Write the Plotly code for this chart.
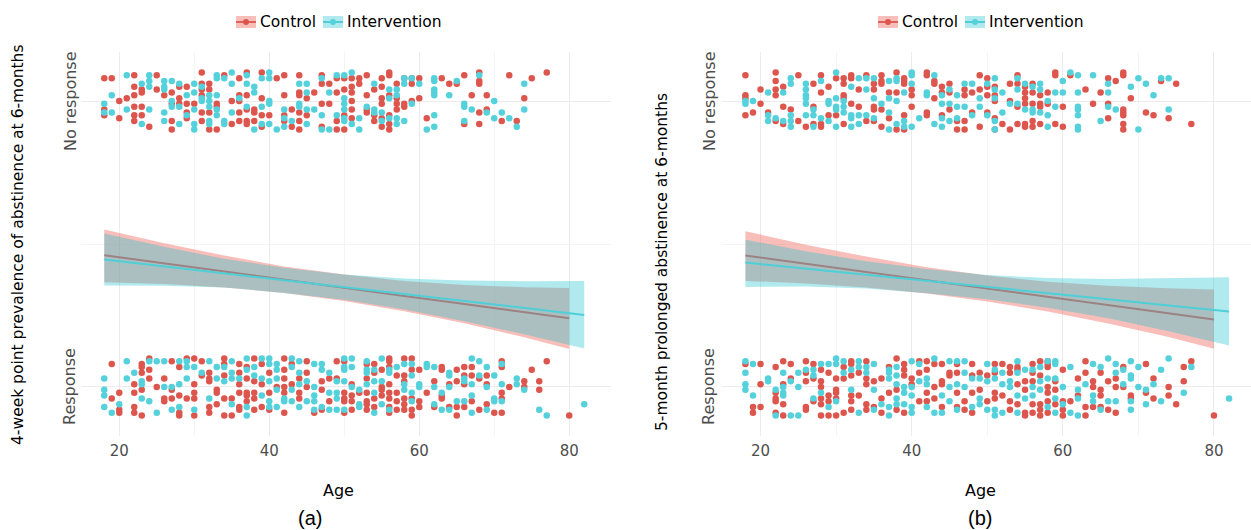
import plotly.graph_objects as go

W, H = 1251, 530

# ---------------- data ----------------
groups = ["Control", "Intervention"]
y_labels = ["Response", "No response"]   # y = 0, y = 1
x_ticks = [20, 40, 60, 80]
caption_a = "(a)"
caption_b = "(b)"
ytitle_a = "4-week point prevalence of abstinence at 6-months"
ytitle_b = "5-month prolonged abstinence at 6-months"

# jittered observations: (age, [vertical jitter in hundredths])
a_nr_ctrl = [(18,[8,-3,-5]),(19,[8]),(20,[0,-6]),(21,[1]),(22,[9,5,2,-2,-5,-7]),(23,[4,3,-2,-5]),(24,[-9]),(25,[9,4]),
             (26,[2]),(27,[3,-1,-7,-10]),(28,[5,1,-1]),(29,[5,-1,-4,-6]),(30,[-1]),(31,[10,6,4,2,-4,-7]),(32,[6,4,-4,-10]),
             (33,[-1,-2,-10]),(34,[9]),(35,[0,-8]),(36,[8,2,0,-4,-7]),(37,[10,2,-3,-7,-8]),(38,[-3,-4,-7]),(39,[10,1,-5,-9]),
             (40,[-5]),(41,[8]),(42,[9,2,-5,-7]),(43,[-3,-9]),(44,[9,3,2,-4,-7,-10]),(45,[1,-5]),(46,[3]),(47,[9,6,-1,-9]),
             (48,[6,-1]),(49,[8,3,-7,-10]),(50,[8,4,-5,-10]),(51,[8,5,3,0,-3,-6]),(52,[8,6]),(53,[9,2,-3,-4]),(54,[4,-5,-7]),
             (55,[8,5,1,-1,-6,-9]),(56,[10,9,2,-5,-8,-10]),(57,[6,1,-1,-3]),(58,[8,-2,-1]),(59,[8,6,0]),(60,[8,1]),(61,[-6]),
             (63,[8]),(64,[6]),(65,[6]),(66,[9,-8]),(67,[2]),(68,[10,7,6,-4,-8]),(69,[2,-3]),(71,[-7]),(72,[9]),(73,[-7]),
             (74,[1]),(75,[8]),(77,[10])]
a_nr_int = [(18,[-1,-4]),(19,[2,-4]),(21,[-3,9]),(23,[6,-8]),(24,[9,7,5,-3]),(26,[7,5,4,-4,-7]),(27,[7,0,-2]),(28,[6,-2,-8]),
            (29,[2,-5]),(30,[6,3,-3,-8,-10]),(31,[5,1,0]),(32,[2,0,-2,-7,-8]),(33,[9,8,2,-3,-5]),(34,[8,-7,-8]),(35,[10,6,-4]),
            (36,[1]),(37,[9,6,-2]),(38,[5,3,-10]),(39,[8,-2,-8]),(40,[10,8,0,-1,-8]),(41,[-10]),(42,[-3,-6,-9]),(43,[-7]),
            (44,[6,-1,-2]),(45,[6,3,-3,-8]),(46,[-3]),(47,[8,-5,-10]),(48,[3,-10]),(49,[9,-5]),(50,[9,1,-1,-7,-3,-6]),
            (51,[10,-8]),(52,[-6,-10]),(53,[-2]),(54,[6,-3,-4]),(55,[-4,-7]),(56,[4,1,-6]),(57,[4,2,-6,-8]),(58,[8,6,-7]),
            (59,[8,-1]),(60,[6]),(61,[-10]),(62,[8,7,4,3,2,-5,-9]),(64,[2]),(65,[7]),(66,[-1,-2,-7]),(67,[-3]),(68,[9]),
            (69,[-4]),(70,[0,-6]),(71,[-4]),(72,[-6]),(73,[-9]),(74,[6,-3])]
a_r_ctrl = [(19,[8,-4]),(20,[-8,-9,-2]),(22,[1,-2,-7,-9]),(23,[8,7,5,-1,-10]),(24,[10,6,3]),(25,[0]),(26,[3,-4,-5]),
            (27,[9,-1,-4]),(28,[7,-3,-9,-10]),(29,[10,-4]),(30,[10,1,-2,-4,-10]),(31,[9,4]),(32,[5,3,2,-7,-9]),(33,[-2,-1,-6]),
            (34,[10,8,4,-4,-10]),(35,[-4,-10]),(36,[8,5,1,-2,-7,-8]),(37,[7,3,-2,-3,-5]),(38,[10,2,-2,-4,-8]),(39,[8,1,-7]),
            (40,[5,-2,-8]),(41,[0]),(42,[10,6,3,0,-2,-9]),(43,[8,1]),(44,[3,-2,-4]),(45,[9,5,0]),(46,[-9]),(47,[2,-1,-8]),
            (48,[3,-5]),(49,[9,3]),(50,[9,-2,-4,-9,-5]),(51,[1,-3,-5,-8]),(52,[-2]),(53,[8,3,-2,-5,-6,-8]),(54,[8,5,-4,-7]),
            (55,[6,0,-1,-3]),(56,[10,9,7,1,-2,-4,-7,-9]),(57,[4,-2,-5,-8]),(58,[10,4,2,-4,-6,-8]),(59,[10,6,-4,-8,-10]),
            (60,[6,-5,-7]),(61,[-2]),(62,[2,-7]),(63,[7,6,-3,-4]),(64,[1,-7]),(65,[6,2,-7,-10]),(66,[7,4,1,-7]),(67,[7,4,-5]),
            (68,[3,-8]),(69,[4,1,-6]),(70,[-9]),(71,[9,7,-2,-4,-9]),(72,[0]),(74,[2,0]),(75,[6]),(76,[2,-1]),(77,[9]),(80,[-10])]
a_r_int = [(18,[3,-1,-3,-7]),(19,[-9]),(20,[-6]),(21,[9,3]),(22,[5]),(23,[2,1,-4]),(24,[9,-5]),(25,[9,-9]),(26,[9,0]),
           (27,[0,-8]),(28,[9,1,-7]),(29,[9,7,3]),(30,[7,-8]),(31,[5]),(32,[9,-4]),(33,[7,3]),(34,[7,2]),(35,[9,5,3,-6]),
           (36,[3]),(37,[10,6,-7,-10]),(38,[7,4]),(39,[10,3,-3]),(40,[10,8,2,-5,-7]),(41,[8,6,3,-1,-7]),(42,[-4,-5]),
           (43,[10,7,-1,-5]),(44,[9,5,1,-7]),(45,[2,-5]),(46,[8,0,-3,-5,-8]),(47,[8,6,-7]),(48,[5,-2,-8]),(49,[2,-2,-4,-8]),
           (50,[10,7,6,2,-8]),(51,[10,7,0]),(52,[-1,-6,-7]),(53,[9,6,5,1]),(54,[6,2,-2,-9]),(55,[10,2,-6]),(56,[6,5,-8]),
           (57,[7]),(58,[8,-1,1]),(59,[8,4,-2,-5]),(60,[1,0]),(61,[8,7]),(62,[7,0,-6]),(63,[-8,-2]),(64,[5,4,0,-8]),(65,[-5]),
           (66,[3,2,-5]),(67,[10,1,-3,-9]),(68,[9,4]),(69,[7,0,-8]),(70,[4,-5,-4]),(71,[8,1,-5]),(73,[3,1]),(74,[-1]),
           (76,[-8]),(77,[-10]),(82,[-6])]

b_nr_ctrl = [(18,[9,2,1,-5]),(19,[-4]),(20,[4,-1]),(21,[-4]),(22,[10,7,4,2,-7]),(23,[5,-2,-8]),(24,[-3]),(25,[9,-7]),(26,[-9]),
             (27,[6,-2,-8]),(28,[9,3,-8,-9]),(29,[5,-5]),(30,[8,-5]),(31,[8,6,2,1,-8]),(32,[9,8,-1]),(33,[4,-2]),(34,[9,-7]),
             (35,[6,4,-2,-3,-7]),(36,[9,7,6,-3,-9]),(37,[3,-6]),(38,[10,3,-10]),(39,[8,7,6,-5,-10]),(40,[4,2,-2]),
             (42,[10,9,-4,-5]),(43,[7,6,1]),(44,[5,3,-5]),(45,[6,3,-3]),(46,[-7,-10]),(47,[4,2,-7,-10]),(48,[3,-4]),
             (49,[9,4,-9]),(50,[8,5,2,-4]),(51,[5,2,0,-6,-10]),(52,[-8]),(53,[6,0,-10]),(54,[9,6,-2,-8]),(55,[5,3,1,-1,-8,-9]),
             (56,[6,3,-1,-7,-9]),(57,[2,-1,-2,-8]),(58,[3,-1]),(59,[10,9,-8]),(60,[-2,-9]),(61,[9]),(63,[4]),(64,[-1]),
             (65,[3]),(66,[8,-1,-6]),(67,[7]),(68,[10,9,-3,-4,-5,-8,-10]),(69,[1]),(71,[-4]),(72,[-5]),(73,[7]),(74,[-6]),
             (75,[6]),(77,[-8])]
b_nr_int = [(18,[0,-1]),(19,[0]),(21,[3,-5,-7]),(22,[-6]),(23,[3,-7]),(24,[8,6,-5,-7,-9]),(26,[6,4,2,1,-1,-5]),(27,[-3,-5,-9]),
            (28,[7,-6]),(29,[0,-1,-7]),(30,[10,1,-2,-3,-9]),(31,[0,-2,-4]),(32,[5,-5,-6,-9]),(33,[8,-5,-8]),(34,[8,4,-5]),
            (35,[8,1,-6]),(36,[-1]),(37,[7,1,-4,-10]),(38,[8,7,0,-8]),(39,[3,-7,-9]),(40,[10,9,6,-9]),(41,[-6]),(42,[3,2]),
            (43,[9,-8]),(44,[2,-1,-6,-9]),(45,[4,-1,-7]),(46,[2,-2,-6]),(47,[6,-2]),(48,[6,-5]),(49,[1,-2]),(50,[6,-5]),
            (51,[8,4,1,-7,-10]),(52,[3,-4]),(53,[-1]),(54,[8,4,-1]),(55,[6,-3]),(56,[5,-4,-3]),(57,[6,4,-4]),(58,[0,-5,-9]),
            (59,[3,-2]),(60,[7,3]),(61,[10]),(62,[9,3,-2,-3,-5,-9,-10]),(64,[9]),(65,[-7]),(66,[6,3,-2]),(67,[-3]),(69,[5]),
            (70,[8,-10]),(71,[6]),(72,[2]),(73,[8]),(74,[8,-3])]
b_r_ctrl = [(18,[8]),(19,[-7,-9]),(20,[8,1,-7]),(22,[7,-2,-4,-5,-9]),(23,[9,1,-6,-10]),(24,[8,3]),(26,[9,5,2,-7,-8]),
            (27,[8,3,-5]),(28,[6,2,0,-4,-6,-10]),(29,[5,-3,-5,-10]),(30,[3,-1,-2,-4,-10]),(31,[7,3,-9]),(32,[9,8,4,-3,-5,-8]),
            (33,[5,-3]),(34,[9,3,1,-6,-8]),(35,[2,-7]),(36,[3,-4,-9]),(37,[7,-2]),(38,[10,-1,-8]),(39,[8,6,4,-9]),(40,[3,1]),
            (41,[9,5,-5]),(42,[9,6,-2,-5]),(43,[8,0,-4]),(44,[8,2,1,-7]),(45,[5,4]),(46,[8,5,-2,-7]),(47,[-5,-8]),
            (48,[8,4,-2,-9]),(49,[5,-1]),(50,[4,-5]),(51,[8,5,-2,-4]),(52,[8,-3]),(53,[7,5,-5,-8]),(54,[7,6,1,-6]),
            (55,[2,-1,-9,-10]),(56,[8,5,2,-6,-9]),(57,[9,4,-6,-8,-10]),(58,[9,8,7,0,-2,-5,-9]),(59,[2,-1,-6]),
            (60,[6,-5,-8,-10]),(61,[-5]),(62,[3,-3]),(63,[9,5,-7,-10]),(64,[2,0,-7]),(65,[5,-1,-3,-7]),(66,[2,-8]),
            (67,[3,0,-9]),(68,[7,0]),(69,[-3,-4]),(71,[8,-2]),(72,[3,-4]),(74,[0,-3]),(75,[-6]),(76,[7,2]),(77,[9]),(80,[-10])]
b_r_int = [(18,[9,5,1,-1]),(19,[8,-3]),(21,[3,2]),(22,[-1,-10]),(23,[5,0,-2,-3]),(24,[2,-10]),(25,[5,0,-10]),(26,[6]),
           (27,[6,4,-4]),(28,[8,-2]),(29,[8,-7]),(30,[10,8,-5]),(31,[9,5]),(32,[6,-1]),(33,[9,7,-9]),(34,[7,5]),
           (35,[8,-1,-8]),(36,[-6]),(37,[6,5,3,-7,-10]),(38,[7,4,1,-4,-6]),(39,[0,-2,-6]),(40,[9,0,-3,-7,-9]),(41,[8,2]),
           (42,[3,1,-7]),(43,[10,-9]),(44,[-3,-9]),(45,[9,0,-5]),(46,[9,1,-8]),(47,[9,5,0]),(48,[3,-7]),(49,[3,-4,-6]),
           (50,[8,2,-8]),(51,[6,3,-8,-10]),(52,[5,1,-9]),(53,[2,0]),(54,[9,5,-3,-9]),(55,[6,-4]),(56,[6,0,-3]),(57,[7,2,-1]),
           (58,[9,3,-7]),(59,[9,8,3,-4,-9]),(60,[0,-6]),(61,[7,-9]),(62,[-1,-4,-10]),(63,[1]),(64,[8,-3,-5]),(65,[7,-8]),
           (66,[10,-5]),(67,[8,5,-5]),(68,[6,1]),(69,[9,4,3,-5,-8]),(70,[7,0]),(71,[-1,-6]),(72,[1]),(73,[6,-5]),(74,[10]),
           (76,[-2]),(77,[7]),(82,[-4])]

# fitted logistic curves with 95% bands
fit_age_ctrl = [18, 26, 34, 42, 50, 58, 66, 74, 80]
fit_age_int = [18, 26, 34, 42, 50, 58, 66, 74, 82]
a_ctrl_fit = [0.461, 0.432, 0.404, 0.375, 0.347, 0.318, 0.290, 0.261, 0.240]
a_ctrl_hi = [0.551, 0.503, 0.460, 0.421, 0.393, 0.371, 0.357, 0.349, 0.346]
a_ctrl_lo = [0.366, 0.360, 0.348, 0.329, 0.301, 0.265, 0.223, 0.174, 0.133]
a_int_fit = [0.446, 0.422, 0.398, 0.373, 0.349, 0.325, 0.301, 0.277, 0.252]
a_int_hi = [0.537, 0.490, 0.448, 0.417, 0.393, 0.379, 0.372, 0.370, 0.371]
a_int_lo = [0.355, 0.354, 0.348, 0.329, 0.305, 0.271, 0.230, 0.184, 0.135]
b_ctrl_fit = [0.460, 0.431, 0.402, 0.373, 0.344, 0.315, 0.286, 0.257, 0.236]
b_ctrl_hi = [0.545, 0.497, 0.456, 0.419, 0.390, 0.368, 0.354, 0.345, 0.341]
b_ctrl_lo = [0.371, 0.362, 0.348, 0.327, 0.299, 0.264, 0.222, 0.175, 0.134]
b_int_fit = [0.435, 0.414, 0.392, 0.371, 0.349, 0.328, 0.307, 0.285, 0.264]
b_int_hi = [0.515, 0.475, 0.440, 0.413, 0.392, 0.381, 0.378, 0.380, 0.384]
b_int_lo = [0.350, 0.351, 0.344, 0.328, 0.307, 0.277, 0.240, 0.195, 0.145]

# ---------------- style ----------------
RED_PT = "#DD564D"
CYAN_PT = "#54D1DB"
RED_LINE = "#E0605A"
CYAN_LINE = "#4ECFD8"
RED_FILL = "rgba(240,110,100,0.45)"
CYAN_FILL = "rgba(30,195,205,0.35)"
FONT = "DejaVu Sans"


def expand(cols, base):
    xs, ys = [], []
    for age, js in cols:
        for j in js:
            xs.append(age)
            ys.append(base + j / 100.0)
    return xs, ys


fig = go.Figure()

panels = [
    ("x", "y", [(a_nr_ctrl, 1, RED_PT), (a_nr_int, 1, CYAN_PT), (a_r_ctrl, 0, RED_PT), (a_r_int, 0, CYAN_PT)],
     (a_ctrl_fit, a_ctrl_hi, a_ctrl_lo, a_int_fit, a_int_hi, a_int_lo)),
    ("x2", "y2", [(b_nr_ctrl, 1, RED_PT), (b_nr_int, 1, CYAN_PT), (b_r_ctrl, 0, RED_PT), (b_r_int, 0, CYAN_PT)],
     (b_ctrl_fit, b_ctrl_hi, b_ctrl_lo, b_int_fit, b_int_hi, b_int_lo)),
]

for xa, ya, pts, fits in panels:
    for cols, base, col in pts:
        xs, ys = expand(cols, base)
        fig.add_trace(go.Scatter(x=xs, y=ys, mode="markers", xaxis=xa, yaxis=ya,
                                 marker=dict(size=6.5, color=col, line=dict(width=0)),
                                 showlegend=False, hoverinfo="skip"))
    cfit, chi, clo, ifit, ihi, ilo = fits
    # control ribbon + line
    fig.add_trace(go.Scatter(x=fit_age_ctrl + fit_age_ctrl[::-1], y=chi + clo[::-1], xaxis=xa, yaxis=ya,
                             mode="lines", line=dict(width=0), fill="toself",
                             fillcolor=RED_FILL, showlegend=False, hoverinfo="skip"))
    fig.add_trace(go.Scatter(x=fit_age_ctrl, y=cfit, xaxis=xa, yaxis=ya, mode="lines",
                             line=dict(color=RED_LINE, width=2), showlegend=False))
    # intervention ribbon + line
    fig.add_trace(go.Scatter(x=fit_age_int + fit_age_int[::-1], y=ihi + ilo[::-1], xaxis=xa, yaxis=ya,
                             mode="lines", line=dict(width=0), fill="toself",
                             fillcolor=CYAN_FILL, showlegend=False, hoverinfo="skip"))
    fig.add_trace(go.Scatter(x=fit_age_int, y=ifit, xaxis=xa, yaxis=ya, mode="lines",
                             line=dict(color=CYAN_LINE, width=2), showlegend=False))


def px(x):
    return x / W


def py(y):
    return 1 - y / H


yr = [-0.17, 1.17]
ydom = [py(435.6), py(52.4)]

xaxis_common = dict(tickvals=x_ticks, showgrid=True, gridcolor="#EBEBEB", gridwidth=1,
                    zeroline=False, showline=False, ticks="", ticklabelstandoff=4,
                    tickfont=dict(family=FONT, size=15, color="#4D4D4D"),
                    minor=dict(tickvals=[30, 50, 70], showgrid=True, gridcolor="#F4F4F4", gridwidth=1))
yaxis_common = dict(range=yr, tickvals=[0, 1], showticklabels=False, showgrid=True, gridcolor="#EBEBEB",
                    gridwidth=1, zeroline=False, showline=False, ticks="",
                    minor=dict(tickvals=[0.5], showgrid=True, gridcolor="#F4F4F4", gridwidth=1))

fig.update_layout(
    width=W, height=H, margin=dict(l=0, r=0, t=0, b=0),
    paper_bgcolor="white", plot_bgcolor="white",
    font=dict(family=FONT),
    showlegend=False,
    xaxis=dict(domain=[px(81), px(610.5)], range=[14.9, 85.5], anchor="y", **xaxis_common),
    yaxis=dict(domain=ydom, anchor="x", **yaxis_common),
    xaxis2=dict(domain=[px(722), 1.0], range=[14.9, 84.9], anchor="y2", **xaxis_common),
    yaxis2=dict(domain=ydom, anchor="x2", **yaxis_common),
)

ann = []
shapes = []
# y tick labels
for yref, xpos in (("y", 70), ("y2", 709)):
    for val, lab in zip([0, 1], y_labels):
        ann.append(dict(x=px(xpos), y=val, xref="paper", yref=yref, text=lab, showarrow=False,
                        textangle=-90, xanchor="center", yanchor="middle",
                        font=dict(family=FONT, size=16, color="#4D4D4D")))
# y titles
ann.append(dict(x=px(18), y=py(245), xref="paper", yref="paper", text=ytitle_a, showarrow=False, textangle=-90,
                xanchor="center", yanchor="middle", font=dict(family=FONT, size=15.5, color="black")))
ann.append(dict(x=px(662), y=py(262), xref="paper", yref="paper", text=ytitle_b, showarrow=False, textangle=-90,
                xanchor="center", yanchor="middle", font=dict(family=FONT, size=15.5, color="black")))
# x titles
for xc in (338, 980):
    ann.append(dict(x=px(xc), y=py(490), xref="paper", yref="paper", text="Age", showarrow=False,
                    xanchor="center", yanchor="middle", font=dict(family=FONT, size=16, color="black")))
# captions
for xc, cap in ((310, caption_a), (980, caption_b)):
    ann.append(dict(x=px(xc), y=py(518), xref="paper", yref="paper", text=cap, showarrow=False,
                    xanchor="center", yanchor="middle", font=dict(family="Liberation Sans", size=20, color="black")))

# legends (one per panel)
for x0 in (236, 878):
    for k, (name, lc, pc, fc) in enumerate([(groups[0], RED_LINE, RED_PT, RED_FILL),
                                            (groups[1], CYAN_LINE, CYAN_PT, CYAN_FILL)]):
        kx = x0 if k == 0 else x0 + 87
        shapes.append(dict(type="rect", xref="paper", yref="paper", x0=px(kx), x1=px(kx + 20),
                           y0=py(28), y1=py(16), fillcolor=fc, line=dict(width=0)))
        shapes.append(dict(type="line", xref="paper", yref="paper", x0=px(kx), x1=px(kx + 20),
                           y0=py(22), y1=py(22), line=dict(color=lc, width=2)))
        shapes.append(dict(type="circle", xref="paper", yref="paper", x0=px(kx + 7), x1=px(kx + 13),
                           y0=py(25), y1=py(19), fillcolor=pc, line=dict(width=0)))
        ann.append(dict(x=px(kx + 22), y=py(22), xref="paper", yref="paper", text=name, showarrow=False,
                        xanchor="left", yanchor="middle", font=dict(family=FONT, size=15.5, color="black")))

fig.update_layout(annotations=ann, shapes=shapes)

fig.write_html("out.html")
